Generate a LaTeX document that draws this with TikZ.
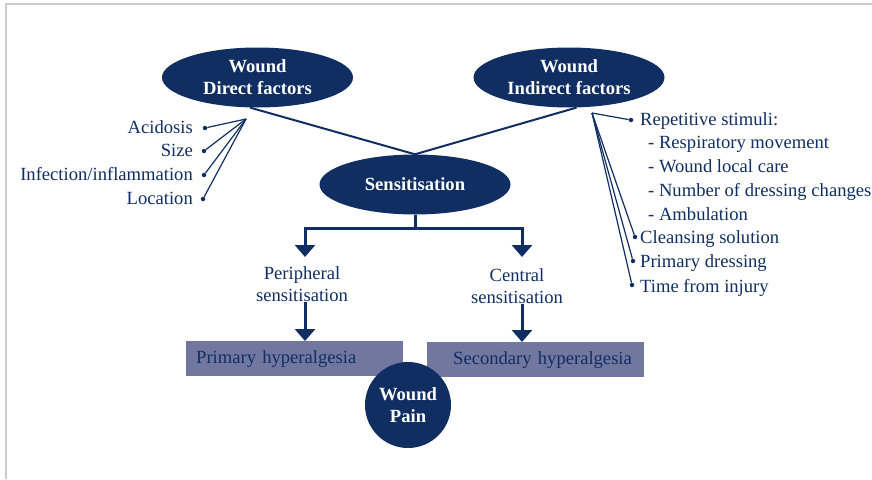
\documentclass[tikz,border=0pt]{standalone}
\usepackage{fontspec}
\setmainfont{Liberation Serif}
\usetikzlibrary{shapes.geometric,arrows.meta}
\definecolor{navy}{RGB}{16,46,98}
\definecolor{boxgray}{RGB}{114,119,160}
\definecolor{framegray}{RGB}{204,204,204}

\tikzset{
  blob/.style={ellipse, fill=navy, text=white, font=\bfseries, align=center,
    minimum width=191pt, minimum height=60pt, inner sep=0pt},
  item/.style={text=navy, inner sep=0pt},
  dot/.style={circle, fill=navy, minimum size=4.5pt, inner sep=0pt},
  twig/.style={navy, line width=1.2pt},
  trunk/.style={navy, line width=2pt},
  hyper/.style={rectangle, fill=boxgray, text=navy, anchor=north west,
    minimum width=217pt, minimum height=35pt, text width=197pt,
    inner xsep=10pt, align=left},
  treearrow/.style={navy, line width=3pt, -{Triangle[width=20pt,length=12pt]}}
}

\begin{document}
\fontsize{18.6}{22}\selectfont
\begin{tikzpicture}[x=1pt,y=-1pt]
			%Config
			\useasboundingbox (0,0) rectangle (872,479);
			\draw[framegray, line width=2pt] (6,479) -- (6,4) -- (872,4);

			%Elipses
			\node[blob] (direct) at (257.5,77.5) {Wound\\Direct factors};
			\node[blob] (indirect) at (569,77.5) {Wound\\Indirect factors};
			\node[blob] (sens) at (415,184.5) {Sensitisation};
			\draw[trunk] (direct.256) -- (sens.north);
			\draw[trunk] (indirect.-76) -- (sens.north);

			%Fatores diretos
			\coordinate (lfan) at (246,119);
			\node[item, anchor=base east] (acid) at (193,133) {Acidosis};
			\node[item, anchor=base east] (size) at (193,156) {Size};
			\node[item, anchor=base east] (infect) at (193,180) {Infection/inflammation};
			\node[item, anchor=base east] (locat) at (193,204) {Location};
			\node[dot] (dacid) at (205,128) {};
			\node[dot] (dsize) at (204,151) {};
			\node[dot] (dinfect) at (204,175) {};
			\node[dot] (dlocat) at (203,199) {};
			\draw[twig] (lfan) -- (dacid);
			\draw[twig] (lfan) -- (dsize);
			\draw[twig] (lfan) -- (dinfect);
			\draw[twig] (lfan) -- (dlocat);

			%Fatores indiretos
			\coordinate (rfan) at (592,113);
			\node[item, anchor=base west] (repet) at (640,125) {Repetitive stimuli:};
			\node[item, anchor=base west] (resp) at (648,148) {- Respiratory movement};
			\node[item, anchor=base west] (local) at (648,172) {- Wound local care};
			\node[item, anchor=base west] (number) at (648,196) {- Number of dressing changes};
			\node[item, anchor=base west] (ambul) at (648,220) {- Ambulation};
			\node[item, anchor=base west] (cleans) at (640,243) {Cleansing solution};
			\node[item, anchor=base west] (dress) at (640,267) {Primary dressing};
			\node[item, anchor=base west] (time) at (640,292) {Time from injury};
			\node[dot] (drepet) at (631,120) {};
			\node[dot] (dcleans) at (635,237) {};
			\node[dot] (ddress) at (633,261) {};
			\node[dot] (dtime) at (632,285) {};
			\draw[twig] (rfan) -- (drepet);
			\draw[twig] (rfan) -- (dcleans);
			\draw[twig] (rfan) -- (ddress);
			\draw[twig] (rfan) -- (dtime);

			%Sensibilizacao
			\node[item, align=center] (periph) at (302,284) {Peripheral\\sensitisation};
			\node[item, align=center] (central) at (517,286) {Central\\sensitisation};
			\coordinate (fork) at (415,228);
			\coordinate (pl) at (305,257);
			\coordinate (cl) at (522,257);
			\draw[treearrow] (sens.south) -- (fork) -| (pl);
			\draw[treearrow] (sens.south) -- (fork) -| (cl);

			%Hiperalgesia e dor
			\node[hyper] (primary) at (186,341) {Primary hyperalgesia};
			\node[hyper] (secondary) at (427,342) {\hspace*{16pt}Secondary hyperalgesia};
			\draw[treearrow] (periph.south -| pl) -- (pl |- primary.north);
			\draw[treearrow] (central.south -| cl) -- (cl |- secondary.north);
			\node[circle, fill=navy, text=white, font=\bfseries, align=center,
			  minimum size=86pt, inner sep=0pt] (pain) at (408,405) {Wound\\Pain};
		\end{tikzpicture}
\end{document}
